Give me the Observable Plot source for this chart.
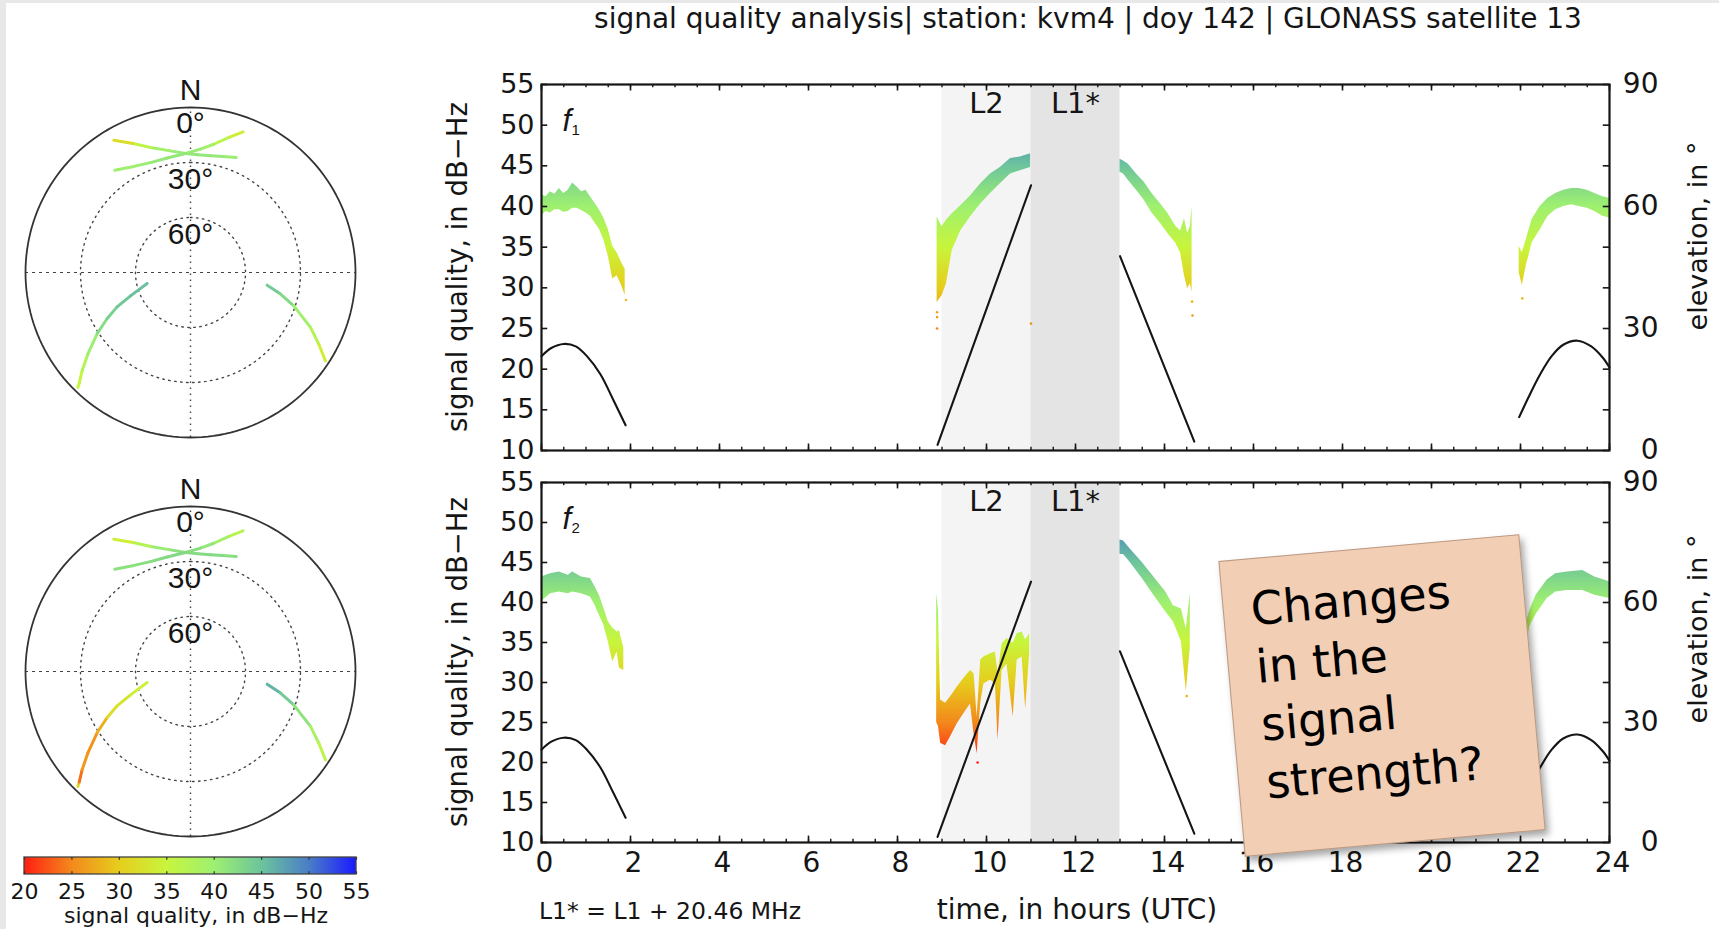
<!DOCTYPE html>
<html>
<head>
<meta charset="utf-8">
<script src="https://cdn.jsdelivr.net/npm/d3@7"></script>
<script src="https://cdn.jsdelivr.net/npm/@observablehq/plot@0.6"></script>
<style>
  body { margin: 0; background: #fff; }
  #page { position: relative; width: 1719px; height: 929px; overflow: hidden; background: #fff; }
  #page svg { position: absolute; }
  .note {
    position: absolute; box-sizing: border-box;
    background: #f2ceb5; border: 1px solid rgba(140,110,90,0.55);
    box-shadow: 3px 5px 7px rgba(0,0,0,0.35);
    font-family: "DejaVu Sans", sans-serif; color: #000;
    font-size: 46px; line-height: 58px; padding: 21px 0 0 27px;
    transform: rotate(-5.1deg); z-index: 10;
  }
</style>
</head>
<body>
<div id="page"></div>
<script>
// ---------------- data ----------------
const hourTicks = [0, 2, 4, 6, 8, 10, 12, 14, 16, 18, 20, 22, 24];
const snrTicks = [10, 15, 20, 25, 30, 35, 40, 45, 50, 55];
const elevationTicks = [0, 30, 60, 90];
const colorbarTicks = [20, 25, 30, 35, 40, 45, 50, 55];

const qualityStops = [20, 25, 30, 35, 40, 45, 50, 55];
const qualityColors = ["#ff1e12", "#f3891c", "#e6cd1c", "#c8f53c", "#9ef070", "#6cc49c", "#4a7ec6", "#1a1aff"];

const bandStart = [9, 11];
const bandEnd = [11, 13];
const bandLabel = ["L2", "L1*"];

// signal quality f1: [segment, hour, lower edge, upper edge] (dB-Hz)
const f1Band = [
  [1, 0.00, 38.8, 41.4], [1, 0.10, 39.4, 41.2], [1, 0.20, 39.2, 41.8], [1, 0.30, 39.6, 41.5],
  [1, 0.40, 39.6, 42.2], [1, 0.50, 39.3, 41.6], [1, 0.60, 39.4, 42.0], [1, 0.70, 39.8, 42.9],
  [1, 0.80, 39.8, 42.4], [1, 0.90, 39.5, 41.8], [1, 1.00, 39.2, 42.0], [1, 1.10, 38.8, 41.2],
  [1, 1.20, 38.0, 40.4], [1, 1.30, 37.2, 39.6], [1, 1.40, 35.9, 38.6], [1, 1.50, 33.9, 37.2],
  [1, 1.60, 31.1, 35.1], [1, 1.70, 31.5, 34.3], [1, 1.80, 30.3, 33.1], [1, 1.88, 29.1, 32.3],
  [2, 8.89, 28.2, 38.7], [2, 9.00, 29.0, 37.5], [2, 9.10, 30.5, 38.3], [2, 9.23, 34.6, 39.1],
  [2, 9.42, 37.0, 40.1], [2, 9.64, 38.7, 41.3], [2, 9.87, 40.3, 42.8], [2, 10.09, 41.6, 44.0],
  [2, 10.31, 42.8, 44.8], [2, 10.54, 44.0, 45.9], [2, 10.76, 44.4, 46.1], [2, 10.99, 44.8, 46.5],
  [3, 13.00, 44.2, 45.8], [3, 13.08, 44.0, 45.6], [3, 13.19, 43.2, 45.2], [3, 13.37, 42.0, 44.0],
  [3, 13.54, 40.8, 43.0], [3, 13.72, 39.2, 41.6], [3, 13.90, 38.0, 40.4], [3, 14.07, 36.7, 39.2],
  [3, 14.25, 35.5, 37.6], [3, 14.36, 34.3, 37.0], [3, 14.45, 31.5, 38.5], [3, 14.52, 29.9, 36.7],
  [3, 14.58, 30.5, 37.5], [3, 14.62, 29.5, 40.0],
  [4, 21.97, 31.9, 35.1], [4, 22.04, 30.3, 34.3], [4, 22.13, 32.7, 35.9], [4, 22.26, 35.5, 38.4],
  [4, 22.44, 37.1, 40.0], [4, 22.62, 38.8, 41.0], [4, 22.79, 39.6, 41.6], [4, 22.97, 40.0, 42.0],
  [4, 23.15, 40.2, 42.2], [4, 23.32, 40.0, 42.2], [4, 23.50, 39.8, 42.0], [4, 23.67, 39.4, 41.6],
  [4, 23.85, 38.8, 41.2], [4, 24.00, 38.6, 41.0]
];

// signal quality f2: [segment, hour, lower edge, upper edge] (dB-Hz)
const f2Band = [
  [1, 0.00, 40.1, 43.2], [1, 0.20, 41.1, 43.6], [1, 0.40, 41.3, 43.8], [1, 0.60, 41.1, 43.4],
  [1, 0.70, 41.3, 43.8], [1, 0.90, 41.1, 43.2], [1, 1.10, 40.7, 43.0], [1, 1.20, 39.7, 42.0],
  [1, 1.30, 38.4, 40.9], [1, 1.40, 37.2, 39.3], [1, 1.50, 35.1, 37.6], [1, 1.60, 32.6, 36.8],
  [1, 1.70, 33.8, 36.3], [1, 1.75, 31.8, 36.5], [1, 1.85, 31.5, 34.3],
  [2, 8.88, 25.0, 41.1], [2, 8.92, 24.5, 39.0], [2, 8.97, 22.4, 27.8], [2, 9.08, 22.1, 27.4],
  [2, 9.19, 23.2, 28.2], [2, 9.34, 24.8, 29.4], [2, 9.49, 26.1, 30.5], [2, 9.64, 27.3, 31.5],
  [2, 9.72, 23.6, 31.1], [2, 9.79, 21.1, 25.7], [2, 9.87, 27.4, 32.8], [2, 9.94, 29.8, 33.2],
  [2, 10.09, 30.3, 33.6], [2, 10.20, 29.8, 33.8], [2, 10.26, 22.8, 31.1], [2, 10.35, 31.5, 34.8],
  [2, 10.46, 32.3, 35.5], [2, 10.60, 25.7, 34.9], [2, 10.69, 32.8, 36.1], [2, 10.80, 33.2, 36.3],
  [2, 10.88, 26.7, 35.3], [2, 10.97, 33.6, 36.1],
  [3, 13.00, 46.0, 47.8], [3, 13.08, 46.0, 47.7], [3, 13.23, 45.0, 46.7], [3, 13.50, 43.0, 45.0],
  [3, 13.76, 40.9, 43.2], [3, 14.03, 38.8, 41.3], [3, 14.20, 37.6, 39.6], [3, 14.38, 35.1, 39.2],
  [3, 14.49, 28.9, 36.7], [3, 14.58, 34.3, 41.1],
  [4, 21.97, 34.0, 37.5], [4, 22.05, 32.5, 36.0], [4, 22.21, 37.0, 39.0], [4, 22.35, 38.5, 40.9],
  [4, 22.60, 40.5, 42.8], [4, 22.79, 41.3, 43.6], [4, 23.05, 41.5, 43.8], [4, 23.40, 41.5, 44.0],
  [4, 23.67, 40.9, 43.2], [4, 24.00, 40.5, 42.6]
];

// isolated low readings: [hour, dB-Hz]
const f1Strays = [[1.90, 28.5], [8.89, 27.0], [8.89, 26.4], [8.89, 25.0], [11.0, 25.6], [14.62, 28.3], [14.63, 26.6], [22.04, 28.7]];
const f2Strays = [[9.80, 20.0], [14.50, 28.3]];

// satellite elevation: [pass, hour, elevation in degrees]
const elevationTrack = [
  [1, 0.00, 23.2], [1, 0.22, 25.2], [1, 0.50, 26.2], [1, 0.77, 25.6], [1, 1.02, 23.2],
  [1, 1.32, 18.8], [1, 1.62, 12.3], [1, 1.89, 6.2],
  [2, 8.90, 1.4], [2, 11.00, 65.2],
  [3, 13.00, 47.8], [3, 14.67, 2.2],
  [4, 21.97, 8.2], [4, 22.18, 13.1], [4, 22.44, 18.7], [4, 22.70, 23.2], [4, 22.96, 26.0],
  [4, 23.28, 27.0], [4, 23.59, 25.6], [4, 23.85, 22.8], [4, 24.00, 20.4]
];

// sky tracks: [pass, azimuth deg, elevation deg, quality f1, quality f2]
const skyTrack = [
  [1, 21.7, 22.5, 40.0, 41.5], [1, 15.5, 24.3, 40.5, 42.5], [1, 9.7, 25.4, 41.0, 42.5],
  [1, 3.5, 25.6, 41.0, 42.5], [1, 357.6, 25.0, 41.0, 42.0], [1, 350.0, 22.5, 40.0, 41.5],
  [1, 342.3, 18.4, 38.5, 39.5], [1, 336.0, 13.0, 34.0, 35.5], [1, 329.9, 6.6, 30.0, 33.0],
  [2, 224.4, 2.2, 35.0, 40.0], [2, 225.2, 4.5, 35.0, 23.0], [2, 227.8, 10.2, 36.0, 24.5],
  [2, 231.5, 18.4, 39.0, 27.5], [2, 236.8, 29.2, 41.5, 24.0], [2, 241.1, 38.1, 43.0, 31.5],
  [2, 244.9, 45.8, 44.2, 32.0], [2, 248.7, 54.9, 45.0, 34.0], [2, 255.8, 65.6, 45.6, 35.0],
  [3, 99.4, 47.6, 45.0, 47.0], [3, 103.5, 39.5, 43.5, 45.5], [3, 107.9, 30.8, 41.5, 43.0],
  [3, 114.6, 18.0, 38.0, 40.0], [3, 119.2, 9.8, 36.5, 37.5], [3, 123.2, 2.0, 32.0, 35.0],
  [4, 20.5, 8.1, 33.5, 36.0], [4, 15.9, 13.4, 34.5, 38.0], [4, 10.3, 18.9, 38.5, 40.5],
  [4, 4.6, 22.5, 40.2, 41.8], [4, 357.6, 25.0, 41.0, 42.6], [4, 348.5, 26.3, 41.1, 42.8],
  [4, 340.0, 26.2, 40.7, 42.2], [4, 331.9, 24.4, 40.0, 41.8], [4, 323.5, 20.6, 39.8, 41.5]
];
const skyRings = [30, 60];

// ---------------- drawing ----------------
const page = document.getElementById("page");
const ink = "#151515";
const colorScale = {type: "linear", domain: qualityStops, range: qualityColors, clamp: true};
const baseStyle = {background: "transparent", fontFamily: "'DejaVu Sans', sans-serif", fontSize: "27px", color: ink, maxWidth: "none", overflow: "visible"};

function place(svg, left, top) {
  svg.style.left = left + "px";
  svg.style.top = top + "px";
  page.appendChild(svg);
}

function addGradient(svg, id, attrs) {
  const defs = d3.select(svg).insert("defs", ":first-child");
  const g = defs.append("linearGradient").attr("id", id);
  for (const [k, v] of Object.entries(attrs)) g.attr(k, v);
  qualityStops.forEach((v, i) => g.append("stop").attr("offset", (v - 20) / 35).attr("stop-color", qualityColors[i]));
}

function label(text, cx, cy, size, opts = {}) {
  const d = document.createElement("div");
  d.textContent = text;
  const anchor = opts.anchor === "start" ? "translate(0,-50%)" : "translate(-50%,-50%)";
  Object.assign(d.style, {
    position: "absolute", left: cx + "px", top: cy + "px",
    transform: anchor + (opts.rotate ? ` rotate(${opts.rotate}deg)` : ""),
    fontSize: size + "px", lineHeight: "1", whiteSpace: "nowrap",
    fontFamily: opts.font || "'DejaVu Sans', sans-serif", color: ink
  });
  page.appendChild(d);
}

function panel({band, strays, sub, top, height, frameTop, frameBottom, xLabels, gradId}) {
  const rows = band.map(([seg, t, lo, hi]) => ({seg, t, lo, hi}));
  const dots = strays.map(([t, v]) => ({t, v}));
  const elev = elevationTrack.map(([pass, t, el]) => ({pass, t, y: 10 + el / 2}));
  const bands = bandStart.map((s, i) => ({x1: s, x2: bandEnd[i], mid: (s + bandEnd[i]) / 2, label: bandLabel[i]}));
  const minorHours = d3.range(0, 24.01, 0.5);
  const elevMinor = d3.range(0, 90.1, 10);
  const marks = [
    Plot.rect(bands.slice(0, 1), {x1: "x1", x2: "x2", y1: 10, y2: 55, fill: "#f4f4f4"}),
    Plot.rect(bands.slice(1), {x1: "x1", x2: "x2", y1: 10, y2: 55, fill: "#e4e4e4"}),
    Plot.areaY(rows, {x: "t", y1: "lo", y2: "hi", z: "seg", fill: `url(#${gradId})`, curve: "linear"}),
    Plot.dot(dots, {x: "t", y: "v", r: 1.3, fill: "v", stroke: null}),
    Plot.line(elev, {x: "t", y: "y", z: "pass", stroke: ink, strokeWidth: 2.1, curve: "catmull-rom"}),
    Plot.text(bands, {x: "mid", y: 55, dy: 19, text: "label", fontSize: 29, fill: ink}),
    Plot.ruleY(snrTicks, {y: d => d, x1: 0, x2: 0.14, stroke: ink, strokeWidth: 1.6}),
    Plot.ruleY(elevMinor, {y: e => 10 + e / 2, x1: 23.86, x2: 24, stroke: ink, strokeWidth: 1.6}),
    Plot.ruleX(minorHours, {x: d => d, y1: 10, y2: 10.4, stroke: ink, strokeWidth: 1.4}),
    Plot.ruleX(hourTicks, {x: d => d, y1: 10, y2: 10.8, stroke: ink, strokeWidth: 1.6}),
    Plot.ruleX(minorHours, {x: d => d, y1: 55, y2: 54.6, stroke: ink, strokeWidth: 1.4}),
    Plot.ruleX(hourTicks, {x: d => d, y1: 55, y2: 54.2, stroke: ink, strokeWidth: 1.6}),
    Plot.frame({stroke: ink, strokeWidth: 2.2}),
    Plot.text(snrTicks, {x: 0, y: d => d, text: d => String(d), textAnchor: "end", dx: -7, fontSize: 27, fill: ink}),
    Plot.text(elevationTicks, {x: 24, y: e => 10 + e / 2, text: e => String(e), textAnchor: "end", dx: 49, fontSize: 28, fill: ink}),
    Plot.text(["f"], {frameAnchor: "top-left", dx: 21, dy: 24, text: d => d, fontStyle: "italic", fontSize: 31, fill: ink, fontFamily: "'Liberation Sans', Arial, sans-serif"}),
    Plot.text([sub], {frameAnchor: "top-left", dx: 30, dy: 40, text: d => d, fontSize: 15, fill: ink, fontFamily: "'Liberation Sans', Arial, sans-serif"})
  ];
  if (xLabels) marks.push(Plot.text(hourTicks, {x: d => d, y: 10, dy: 21, dx: 3, text: d => String(d), fontSize: 28, fill: ink}));
  const svg = Plot.plot({
    width: 1319, height,
    marginLeft: 141, marginRight: 110,
    marginTop: frameTop - top, marginBottom: top + height - frameBottom,
    x: {domain: [0, 24], axis: null},
    y: {domain: [10, 55], axis: null},
    color: colorScale,
    style: baseStyle,
    marks
  });
  const ys = svg.scale("y");
  const y = d3.scaleLinear(ys.domain, ys.range);
  addGradient(svg, gradId, {gradientUnits: "userSpaceOnUse", x1: 0, x2: 0, y1: y(20), y2: y(55)});
  place(svg, 400, top);
}

function skyplot(qIndex, cy) {
  const proj = (az, el) => ({x: (90 - el) * Math.sin(az * Math.PI / 180), y: (90 - el) * Math.cos(az * Math.PI / 180)});
  const ring = el => d3.range(0, 361, 2).map(a => proj(a, el));
  const links = [];
  for (let i = 1; i < skyTrack.length; i++) {
    const a = skyTrack[i - 1], b = skyTrack[i];
    if (a[0] !== b[0]) continue;
    const p = proj(a[1], a[2]), q = proj(b[1], b[2]);
    links.push({x1: p.x, y1: p.y, x2: q.x, y2: q.y, q: (a[qIndex] + b[qIndex]) / 2});
  }
  const dotted = {stroke: "#444", strokeWidth: 1.4, strokeDasharray: "1.5,4.5"};
  const lf = "'Liberation Sans', Arial, sans-serif";
  const svg = Plot.plot({
    width: 380, height: 420,
    marginLeft: 25, marginRight: 25, marginTop: 47, marginBottom: 43,
    x: {domain: [-90, 90], axis: null},
    y: {domain: [-90, 90], axis: null},
    color: colorScale,
    style: {...baseStyle, fontFamily: lf, fontSize: "30px"},
    marks: [
      ...skyRings.map(el => Plot.line(ring(el), {x: "x", y: "y", ...dotted})),
      Plot.ruleY([0], {x1: -90, x2: 90, stroke: "#444", strokeWidth: 1.2, strokeDasharray: "3,4"}),
      Plot.ruleX([0], {y1: -90, y2: 90, ...dotted}),
      Plot.line(ring(0), {x: "x", y: "y", stroke: "#333", strokeWidth: 1.8}),
      Plot.link(links, {x1: "x1", y1: "y1", x2: "x2", y2: "y2", stroke: "q", strokeWidth: 3, strokeLinecap: "round"}),
      Plot.text(["N"], {x: 0, y: 90, dy: -17, text: d => d, fontSize: 30, fill: ink, fontFamily: lf}),
      Plot.text(["0°"], {x: 0, y: 90, dy: 16, text: d => d, fontSize: 30, fill: ink, fontFamily: lf}),
      Plot.text(["30°"], {x: 0, y: 60, dy: 17, text: d => d, fontSize: 30, fill: ink, fontFamily: lf}),
      Plot.text(["60°"], {x: 0, y: 30, dy: 17, text: d => d, fontSize: 30, fill: ink, fontFamily: lf})
    ]
  });
  place(svg, 0, cy - 212);
}

function colorbar() {
  const svg = Plot.plot({
    width: 380, height: 84,
    marginLeft: 24, marginRight: 24, marginTop: 12, marginBottom: 55,
    x: {domain: [20, 55], axis: null},
    y: {domain: [0, 1], axis: null},
    style: {...baseStyle, fontSize: "22px"},
    marks: [
      Plot.rect([0], {x1: 20, x2: 55, y1: 0, y2: 1, fill: "url(#cb-grad)", stroke: "#444", strokeWidth: 1.3}),
      Plot.ruleX(colorbarTicks, {x: d => d, y1: 0, y2: 0.16, stroke: "#333", strokeWidth: 1.2}),
      Plot.ruleX(colorbarTicks, {x: d => d, y1: 0.84, y2: 1, stroke: "#333", strokeWidth: 1.2}),
      Plot.text(colorbarTicks, {x: d => d, y: 0, dy: 17, text: d => String(d), fontSize: 22, fill: ink})
    ]
  });
  addGradient(svg, "cb-grad", {x1: 0, x2: 1, y1: 0, y2: 0});
  place(svg, 0, 845);
}

// light page border
const edgeL = document.createElement("div");
Object.assign(edgeL.style, {position: "absolute", left: "0", top: "0", width: "6px", height: "929px", background: "#e8e8e8"});
page.appendChild(edgeL);
const edgeT = document.createElement("div");
Object.assign(edgeT.style, {position: "absolute", left: "0", top: "0", width: "1719px", height: "3px", background: "#e8e8e8"});
page.appendChild(edgeT);

skyplot(3, 272);
skyplot(4, 671);
colorbar();
panel({band: f1Band, strays: f1Strays, sub: "1", top: 0, height: 470, frameTop: 84, frameBottom: 450, xLabels: false, gradId: "grad-f1"});
panel({band: f2Band, strays: f2Strays, sub: "2", top: 460, height: 469, frameTop: 482, frameBottom: 842, xLabels: true, gradId: "grad-f2"});

label("signal quality analysis| station: kvm4 | doy 142 | GLONASS satellite 13", 1088, 19, 28);
label("signal quality, in dB\u2212Hz", 458, 267, 27.5, {rotate: -90});
label("signal quality, in dB\u2212Hz", 458, 662, 27.5, {rotate: -90});
label("elevation, in \u00b0", 1697, 236, 27, {rotate: -90});
label("elevation, in \u00b0", 1697, 629, 27, {rotate: -90});
label("time, in hours (UTC)", 1077, 910, 28);
label("L1* = L1 + 20.46 MHz", 539, 912, 23.5, {anchor: "start"});
label("signal quality, in dB\u2212Hz", 196, 916, 22);

const note = document.createElement("div");
note.className = "note";
Object.assign(note.style, {left: "1231px", top: "547px", width: "302px", height: "297px"});
note.innerHTML = "Changes<br>in the<br>signal<br>strength?";
page.appendChild(note);
</script>
</body>
</html>
